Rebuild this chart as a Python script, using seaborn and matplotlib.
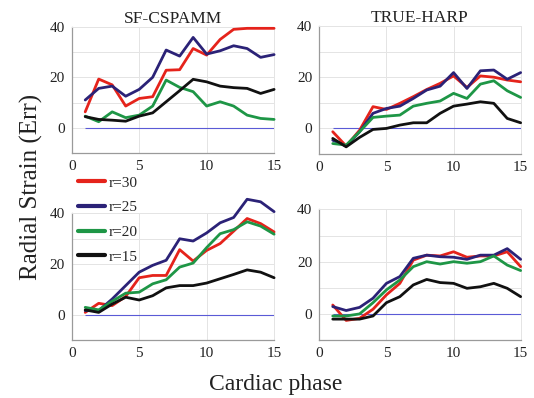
import matplotlib
matplotlib.use('Agg')
import matplotlib.pyplot as plt
import numpy as np
import pandas as pd
import seaborn as sns

#############
# Data      #
#############

phase = list(range(1, 16))
radii = ['r=30', 'r=25', 'r=20', 'r=15']
panel_titles = ['SF-CSPAMM', 'TRUE-HARP', '', '']

# top left: SF-CSPAMM (row 1)
sf1_r30 = [6.3, 19.3, 17.0, 8.6, 11.6, 12.3, 22.8, 23.0, 31.4, 28.8, 35.0, 39.0, 39.4, 39.4, 39.4]
sf1_r25 = [11.0, 15.6, 16.5, 12.5, 15.2, 20.0, 30.8, 28.4, 35.8, 29.2, 30.5, 32.5, 31.4, 27.9, 29.0]
sf1_r20 = [4.6, 2.4, 6.3, 4.0, 5.0, 8.6, 18.9, 16.0, 14.3, 8.6, 10.3, 8.6, 5.0, 3.7, 3.3]
sf1_r15 = [4.4, 3.3, 3.0, 2.6, 4.6, 5.9, 10.3, 14.7, 19.2, 18.2, 16.5, 15.9, 15.6, 13.6, 15.2]

# top right: TRUE-HARP (row 1)
th1_r30 = [-1.3, -6.9, -0.7, 8.5, 7.4, 9.8, 12.4, 15.2, 17.6, 20.5, 16.0, 20.5, 20.0, 18.9, 18.2]
th1_r25 = [-4.6, -6.9, -1.3, 5.9, 7.8, 8.7, 11.7, 15.0, 16.5, 21.8, 15.6, 22.5, 22.8, 19.2, 21.8]
th1_r20 = [-5.9, -6.5, -1.3, 4.3, 4.8, 5.2, 8.7, 9.8, 10.7, 13.7, 11.7, 17.3, 18.6, 14.7, 12.1]
th1_r15 = [-3.9, -7.2, -3.5, -0.4, 0.0, 1.3, 2.2, 2.2, 5.9, 8.7, 9.5, 10.4, 9.8, 3.9, 2.2]

# bottom left: SF-CSPAMM (row 2)
sf2_r30 = [0.9, 4.5, 3.6, 7.2, 14.6, 15.5, 15.5, 25.7, 21.2, 25.4, 28.1, 33.0, 38.0, 36.0, 32.7]
sf2_r25 = [1.6, 1.6, 6.2, 11.5, 16.8, 19.5, 21.5, 30.0, 29.1, 32.3, 36.3, 38.4, 45.6, 44.6, 40.7]
sf2_r20 = [2.9, 1.9, 5.3, 8.5, 8.9, 12.2, 13.8, 18.8, 20.4, 26.5, 32.0, 33.6, 36.7, 35.0, 31.8]
sf2_r15 = [1.9, 0.9, 4.2, 6.9, 5.8, 7.5, 10.6, 11.5, 11.5, 12.5, 14.2, 15.9, 17.7, 16.8, 14.6]

# bottom right: TRUE-HARP (row 2)
th2_r30 = [3.4, -2.5, -1.7, 1.8, 7.3, 11.7, 20.6, 22.5, 22.2, 23.8, 21.7, 22.2, 22.2, 23.8, 18.1]
th2_r25 = [2.8, 1.3, 2.5, 6.0, 11.7, 14.3, 21.3, 22.5, 21.9, 21.7, 20.9, 22.5, 22.5, 25.0, 20.9]
th2_r20 = [-0.8, -0.8, 0.0, 4.3, 9.2, 13.0, 18.1, 20.0, 19.1, 20.0, 19.4, 20.0, 22.2, 18.7, 16.6]
th2_r15 = [-2.0, -2.0, -2.0, -0.8, 4.3, 6.6, 11.1, 13.2, 12.0, 11.7, 9.8, 10.4, 11.7, 9.8, 6.6]

panels = [
    [sf1_r30, sf1_r25, sf1_r20, sf1_r15],
    [th1_r30, th1_r25, th1_r20, th1_r15],
    [sf2_r30, sf2_r25, sf2_r20, sf2_r15],
    [th2_r30, th2_r25, th2_r20, th2_r15],
]

palette = {'r=30': '#e5231b', 'r=25': '#2b2277', 'r=20': '#1e9646', 'r=15': '#111111'}

#############
# Plot      #
#############

sns.set_theme(style='white')
plt.rcParams['font.family'] = ['Liberation Serif', 'DejaVu Serif']

fig = plt.figure(figsize=(5.34, 3.98), dpi=100)

# axes rectangles [left, bottom, width, height]
rects = [
    [0.1343, 0.6156, 0.379, 0.317],
    [0.598, 0.613, 0.377, 0.3217],
    [0.1343, 0.1457, 0.379, 0.318],
    [0.598, 0.1457, 0.377, 0.328],
]

for k in range(4):
    ax = fig.add_axes(rects[k])
    rows = []
    for name, vals in zip(radii, panels[k]):
        for p, v in zip(phase, vals):
            rows.append({'phase': p, 'strain': v, 'radius': name})
    df = pd.DataFrame(rows)

    ax.hlines(0, 1, 15, color='#5a5ad6', lw=0.8, zorder=1)
    sns.lineplot(data=df, x='phase', y='strain', hue='radius', hue_order=radii,
                 palette=palette, lw=2.0, ax=ax, legend=(k == 2), clip_on=False,
                 zorder=3)

    ax.set_xlim(0, 15)
    ax.set_ylim(-10, 40)
    ax.set_xticks([0, 5, 10, 15])
    ax.set_yticks([0, 20, 40])
    ax.set_xticks([5, 10], minor=True)
    ax.set_yticks([-10, 10, 30], minor=True)
    ax.grid(True, which='both', color='#e4e4e4', lw=0.7)
    ax.tick_params(which='both', length=0, labelsize=11, pad=5, colors='#222222')
    ax.set_xlabel('')
    ax.set_ylabel('')
    for side in ['top', 'right']:
        ax.spines[side].set_color('#e4e4e4')
        ax.spines[side].set_linewidth(0.7)
    for side in ['left', 'bottom']:
        ax.spines[side].set_color('#9a9a9a')
        ax.spines[side].set_linewidth(0.9)

    if panel_titles[k]:
        ax.set_title(panel_titles[k], fontsize=12.5, pad=3, color='#222222')

    if k == 2:
        leg = ax.legend(loc='upper left', bbox_to_anchor=(0.146, 0.558),
                        bbox_transform=fig.transFigure, frameon=False,
                        fontsize=11, handlelength=1.8, handletextpad=0.2,
                        labelspacing=0.72, borderpad=0, borderaxespad=0)
        for line in leg.get_lines():
            line.set_linewidth(3)

fig.text(0.058, 0.53, 'Radial Strain (Err)', rotation=90, ha='center', va='center',
         fontsize=18, color='#222222')
fig.text(0.516, 0.035, 'Cardiac phase', ha='center', va='center',
         fontsize=17, color='#222222')

fig.savefig('out.png', dpi=100)
